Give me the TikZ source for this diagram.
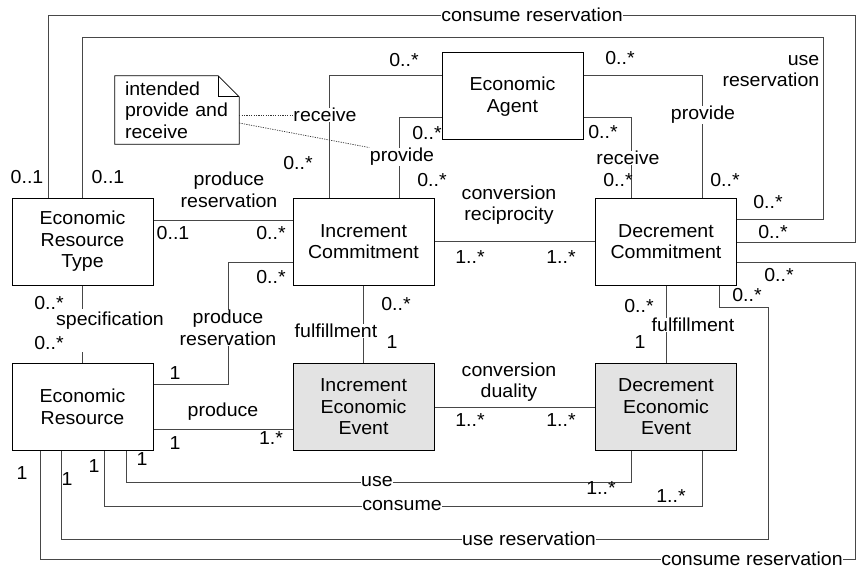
\documentclass[tikz,border=0pt]{standalone}
\usepackage{fontspec}
\setmainfont{Liberation Sans}[FakeStretch=1.04]
\begin{document}
\begin{tikzpicture}[x=1pt,y=-1pt,
  every node/.style={font=\fontsize{18.8}{21.5}\selectfont},
  cls/.style={draw=black, line width=1pt, fill=white, minimum width=141pt,
    minimum height=87pt, align=center, inner sep=2pt},
  evt/.style={cls, fill=black!11},
  conn/.style={draw=black!72, line width=0.9pt},
  dotconn/.style={draw=black!80, line width=0.7pt, dash pattern=on 1.2pt off 1.2pt},
  lbl/.style={inner sep=0.5pt, align=center},
  onln/.style={lbl, fill=white},
  mult/.style={inner sep=0pt}]
\useasboundingbox (0,0) rectangle (862,575);

% classes
\node[cls] (ert) at (82.5,241.5) {Economic\\Resource\\Type};
\node[cls] (ic)  at (363.5,241.5) {Increment\\Commitment};
\node[cls] (dc)  at (666,241.5) {Decrement\\Commitment};
\node[cls] (ea)  at (512.5,96.5) {Economic\\Agent};
\node[cls] (er)  at (82.5,407) {Economic\\Resource};
\node[evt] (iee) at (363.5,407) {Increment\\Economic\\Event};
\node[evt] (dee) at (666,407) {Decrement\\Economic\\Event};

% reservations between resource type and decrement commitment
\draw[conn] (ert.north -| 48,0) |- (855,15) |- (dc.east |- 0,242);
\draw[conn] (ert.north -| 82,0) |- (823,37) |- (dc.east |- 0,219);
% reservations between resource and decrement commitment
\draw[conn] (dc.east |- 0,262) -| (855,559) -| (er.south -| 40,0);
\draw[conn] (dc.south -| 719,0) |- (768,307) |- (61,539) -- (er.south -| 61,0);
% use and consume
\draw[conn] (er.south -| 126,0) |- (631,482) -- (dee.south -| 631,0);
\draw[conn] (er.south -| 104,0) |- (702,506) -- (dee.south -| 702,0);
% produce
\draw[conn] (er.east |- 0,429) -- (iee.west |- 0,429);
\draw[conn] (er.east |- 0,384) -| (228,262) -- (ic.west |- 0,262);
\draw[conn] (ert.east |- 0,220) -- (ic.west |- 0,220);
% specification
\draw[conn] (ert.south) -- ++(0,23);
\draw[conn] (er.north) -- ++(0,-11);
% dualities and fulfillment
\draw[conn] (ic.east) -- (dc.west);
\draw[conn] (iee.east) -- (dee.west);
\draw[conn] (ic.south) -- (iee.north);
\draw[conn] (dc.south) -- (dee.north);
% agent participation
\draw[conn] (ea.west |- 0,75) -| (ic.north -| 329,0);
\draw[conn] (ea.west |- 0,117) -| (ic.north -| 399,0);
\draw[conn] (ea.east |- 0,75) -| (dc.north -| 702,0);
\draw[conn] (ea.east |- 0,117) -| (dc.north -| 631,0);

% association names
\node[onln] (rcvI) at (325,115) {receive};
\node[onln] (prvI) at (402,157) {provide};
\node[onln] at (703,115) {provide};
\node[onln] at (628,158) {receive};
\node[lbl] at (229,190) {produce\\reservation};
\node[onln] at (228,328) {produce\\reservation};
\node[onln, inner sep=0pt] at (110,321) {specification};
\node[onln] at (336,331) {fulfillment};
\node[onln] at (693,325) {fulfillment};
\node[lbl] at (509,205) {conversion\\reciprocity};
\node[lbl] at (509,382) {conversion\\duality};
\node[lbl] at (223,412) {produce};
\node[onln] at (377,482) {use};
\node[onln] at (402,506) {consume};
\node[onln] at (529,539) {use reservation};
\node[onln] at (752,559) {consume reservation};
\node[onln] at (532,15) {consume reservation};
\node[lbl, anchor=east, align=right] at (820,71) {use\\reservation};

% note
\node[align=left, text width=104pt, inner xsep=10pt, inner ysep=0pt,
  minimum height=68pt] (note) at (177,110) {intended\\provide and\\receive};
\draw[black, line width=0.8pt] (note.north west) -- ([xshift=-21pt]note.north east)
  -- ([yshift=-21pt]note.north east) -- (note.south east) -- (note.south west) -- cycle;
\draw[black, line width=0.8pt] ([xshift=-21pt]note.north east) |- ([yshift=-21pt]note.north east);
\draw[dotconn] (note.east |- rcvI.west) -- (rcvI.west);
\draw[dotconn] (note.east |- 0,123) -- (prvI.north west);

% multiplicities
\node[mult] at (27,177) {0..1};
\node[mult] at (108,177) {0..1};
\node[mult] at (298,163) {0..*};
\node[mult] at (404,60) {0..*};
\node[mult] at (427,133) {0..*};
\node[mult] at (432,180) {0..*};
\node[mult] at (620,58) {0..*};
\node[mult] at (603,132) {0..*};
\node[mult] at (618,180) {0..*};
\node[mult] at (725,180) {0..*};
\node[mult] at (768,202) {0..*};
\node[mult, fill=white, inner xsep=1pt, inner ysep=4pt, anchor=base] at (773,238) {0..*};
\node[mult] at (779,275) {0..*};
\node[mult] at (747,295) {0..*};
\node[mult] at (639,306) {0..*};
\node[mult] at (640,342) {1};
\node[mult] at (470,257) {1..*};
\node[mult] at (561,257) {1..*};
\node[mult] at (173,233) {0..1};
\node[mult] at (271,233) {0..*};
\node[mult] at (271,277) {0..*};
\node[mult] at (49,303) {0..*};
\node[mult] at (49,343) {0..*};
\node[mult] at (396,304) {0..*};
\node[mult] at (392,342) {1};
\node[mult] at (175,373) {1};
\node[mult] at (175,443) {1};
\node[mult] at (271,438) {1.*};
\node[mult] at (142,459) {1};
\node[mult] at (94,466) {1};
\node[mult] at (67,479) {1};
\node[mult] at (22,473) {1};
\node[mult] at (470,420) {1..*};
\node[mult] at (561,420) {1..*};
\node[mult] at (601,488) {1..*};
\node[mult] at (671,496) {1..*};
\end{tikzpicture}
\end{document}
